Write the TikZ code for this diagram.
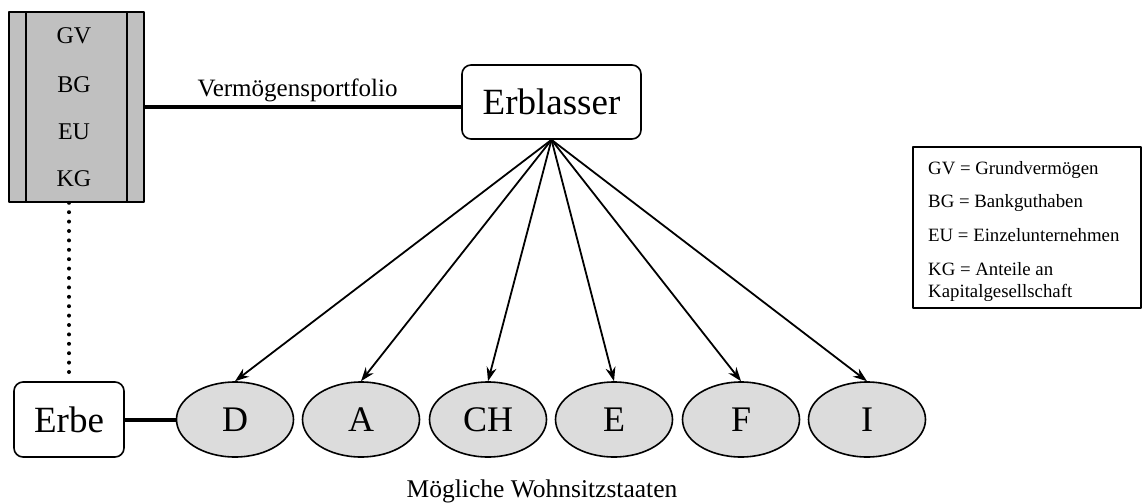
\documentclass[tikz,border=0pt]{standalone}
\usepackage{fontspec}
\setmainfont{Liberation Serif}
\usetikzlibrary{shapes.geometric,arrows.meta}
\definecolor{stapelgrau}{HTML}{C0C0C0}
\definecolor{staatgrau}{HTML}{DCDCDC}
\begin{document}
\begin{tikzpicture}[x=1pt,y=-1pt,line join=round,
	box/.style={draw,line width=1.6pt,rounded corners=9pt,fill=white,inner sep=0pt,font=\fontsize{37}{44}\selectfont},
	staat/.style={draw,ellipse,line width=1.6pt,fill=staatgrau,inner sep=0pt,minimum width=117pt,minimum height=75pt,font=\fontsize{36}{42}\selectfont},
	dick/.style={line width=4pt},
	pfeil/.style={line width=1.8pt,-{Stealth[length=14pt,width=10pt]}}]
	\useasboundingbox (0,0) rectangle (1147,503);
	% Vermoegensstapel
	\node[draw,line width=1.6pt,fill=stapelgrau,inner sep=0pt,minimum width=135pt,minimum height=190pt] (stapel) at (76.5,107) {};
	\draw[line width=1.6pt] (26,12)--(26,202) (127,12)--(127,202);
	\foreach \t/\y in {GV/44,BG/92,EU/139,KG/186}
	\node[anchor=base,font=\fontsize{24}{28}\selectfont] (\t) at (74,\y) {\t};
	% Personen
	\node[box,minimum width=179pt,minimum height=74pt] (erblasser) at (551.5,102) {Erblasser};
	\node[box,minimum width=110pt,minimum height=75pt] (erbe) at (69,419.5) {Erbe};
	\draw[dick] (stapel.east) -- (stapel.east -| erblasser.west);
	\node[anchor=base,font=\fontsize{25}{30}\selectfont] (portfolio) at (297.5,96) {Vermögensportfolio};
	\draw[line width=4pt,line cap=round,dash pattern=on 0pt off 9.4pt] (stapel.south -| erbe.north) -- (erbe.north);
	% Staaten
	\foreach \n/\x in {D/235,A/361,CH/488,E/614,F/741,I/867}
	{
	\node[staat] (s\n) at (\x,419.5) {\n};
	\draw[pfeil] (erblasser.south) -- (s\n.north);
	}
	\draw[dick] (erbe.east) -- (sD.west);
	\node[anchor=base,font=\fontsize{25.5}{30}\selectfont] (wohnsitz) at (542,497) {Mögliche Wohnsitzstaaten};
	% Legende
	\node[draw,line width=1.8pt,inner sep=0pt,minimum width=228pt,minimum height=161pt] (legende) at (1027,227.5) {};
	\foreach \t/\y in {GV = Grundvermögen/174,BG = Bankguthaben/207,EU = Einzelunternehmen/241,KG = Anteile an/275,Kapitalgesellschaft/297}
	\node[anchor=base west,inner sep=0pt,font=\fontsize{18.8}{22}\selectfont] at (928,\y) {\t};
\end{tikzpicture}
\end{document}
